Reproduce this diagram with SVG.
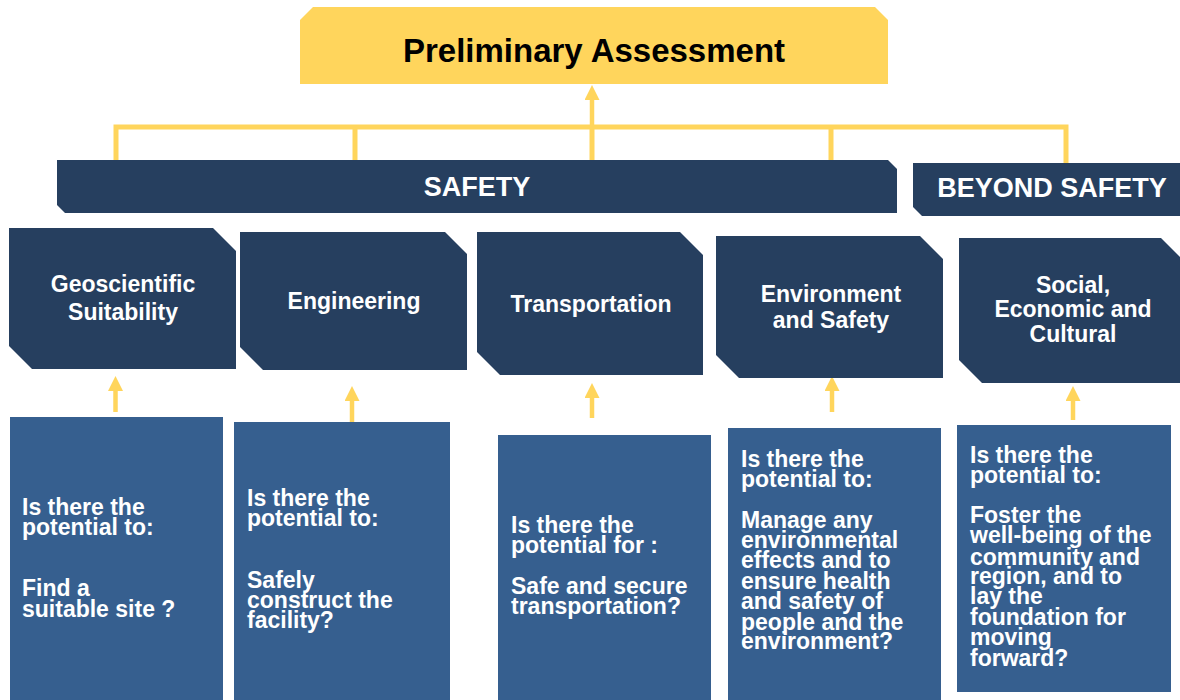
<svg xmlns="http://www.w3.org/2000/svg" width="1180" height="700" viewBox="0 0 1180 700">
<style>
.hdr{fill:#263F5F}
.q{fill:#365F8F}
.t{font-family:"Liberation Sans",Arial,sans-serif;font-weight:bold;fill:#FFFFFF}
.cat{font-size:23px;text-anchor:middle}
.qt{font-size:23px}
.conn{stroke:#FFD55C;stroke-width:5;fill:none}
.arr{stroke:#FFD55C;stroke-width:4.5;fill:none;marker-end:url(#ah)}
</style>
<defs>
<marker id="ah" viewBox="0 0 15 15" refX="0" refY="7.5" markerWidth="15" markerHeight="15" markerUnits="userSpaceOnUse" orient="auto">
<path d="M0,0 L15,7.5 L0,15 z" fill="#FFD55C"/>
</marker>
</defs>
<rect width="1180" height="700" fill="#FFFFFF"/>

<g id="connectors">
<path class="conn" d="M116,160 V127 H1066 V163"/>
<path class="conn" d="M355,127 V160 M592,127 V160 M831,127 V160"/>
<path class="arr" d="M592,127 V100"/>
<path class="arr" d="M115.5,412 V391"/>
<path class="arr" d="M352,422 V401"/>
<path class="arr" d="M592,418 V398"/>
<path class="arr" d="M832,412 V391"/>
<path class="arr" d="M1073,420 V401"/>
</g>

<g id="preliminary">
<polygon points="300,20 313,7 875,7 888,20 888,84 300,84" fill="#FFD55C"/>
<text x="594" y="62" font-family="Liberation Sans,Arial,sans-serif" font-weight="bold" font-size="33" text-anchor="middle" fill="#000000">Preliminary Assessment</text>
</g>

<g id="safety">
<polygon class="hdr" points="57,160 888,160 897,169 897,213 65,213 57,205"/>
<text class="t" x="477" y="196" font-size="27" text-anchor="middle">SAFETY</text>
</g>

<g id="beyond-safety">
<polygon class="hdr" points="913,163 1182,163 1182,216 922,216 913,207"/>
<text class="t" x="1052" y="197" font-size="27" text-anchor="middle">BEYOND SAFETY</text>
</g>

<g id="geoscientific">
<polygon class="hdr" points="9,228 213,228 236,251 236,369 32,369 9,346"/>
<text class="t cat" x="123" y="292">Geoscientific</text>
<text class="t cat" x="123" y="320">Suitability</text>
</g>

<g id="engineering">
<polygon class="hdr" points="240,232 445,232 467,254 467,370 263,370 240,347"/>
<text class="t cat" x="354" y="309">Engineering</text>
</g>

<g id="transportation">
<polygon class="hdr" points="477,232 680,232 703,255 703,375 500,375 477,352"/>
<text class="t cat" x="591" y="312">Transportation</text>
</g>

<g id="environment">
<polygon class="hdr" points="716,236 920,236 943,259 943,378 739,378 716,355"/>
<text class="t cat" x="831" y="302">Environment</text>
<text class="t cat" x="831" y="328">and Safety</text>
</g>

<g id="social">
<polygon class="hdr" points="959,238 1161,238 1184,261 1184,383 982,383 959,360"/>
<text class="t cat" x="1073" y="293">Social,</text>
<text class="t cat" x="1073" y="317">Economic and</text>
<text class="t cat" x="1073" y="342">Cultural</text>
</g>

<g id="q-geoscientific">
<rect class="q" x="10" y="417" width="213" height="283"/>
<text class="t qt" x="22" y="515">Is there the</text>
<text class="t qt" x="22" y="535">potential to:</text>
<text class="t qt" x="22" y="596">Find a</text>
<text class="t qt" x="22" y="617">suitable site ?</text>
</g>

<g id="q-engineering">
<rect class="q" x="234" y="422" width="216" height="278"/>
<text class="t qt" x="247" y="506">Is there the</text>
<text class="t qt" x="247" y="526">potential to:</text>
<text class="t qt" x="247" y="588">Safely</text>
<text class="t qt" x="247" y="608">construct the</text>
<text class="t qt" x="247" y="628">facility?</text>
</g>

<g id="q-transportation">
<rect class="q" x="498" y="435" width="213" height="265"/>
<text class="t qt" x="511" y="533">Is there the</text>
<text class="t qt" x="511" y="553">potential for :</text>
<text class="t qt" x="511" y="594">Safe and secure</text>
<text class="t qt" x="511" y="614">transportation?</text>
</g>

<g id="q-environment">
<rect class="q" x="728" y="428" width="213" height="272"/>
<text class="t qt" x="741" y="467">Is there the</text>
<text class="t qt" x="741" y="487">potential to:</text>
<text class="t qt" x="741" y="528">Manage any</text>
<text class="t qt" x="741" y="548">environmental</text>
<text class="t qt" x="741" y="568">effects and to</text>
<text class="t qt" x="741" y="589">ensure health</text>
<text class="t qt" x="741" y="609">and safety of</text>
<text class="t qt" x="741" y="630">people and the</text>
<text class="t qt" x="741" y="649">environment?</text>
</g>

<g id="q-social">
<rect class="q" x="957" y="425" width="214" height="267"/>
<text class="t qt" x="970" y="463">Is there the</text>
<text class="t qt" x="970" y="483">potential to:</text>
<text class="t qt" x="970" y="523">Foster the</text>
<text class="t qt" x="970" y="543">well-being of the</text>
<text class="t qt" x="970" y="565">community and</text>
<text class="t qt" x="970" y="584">region, and to</text>
<text class="t qt" x="970" y="604">lay the</text>
<text class="t qt" x="970" y="625">foundation for</text>
<text class="t qt" x="970" y="645">moving</text>
<text class="t qt" x="970" y="666">forward?</text>
</g>
</svg>
